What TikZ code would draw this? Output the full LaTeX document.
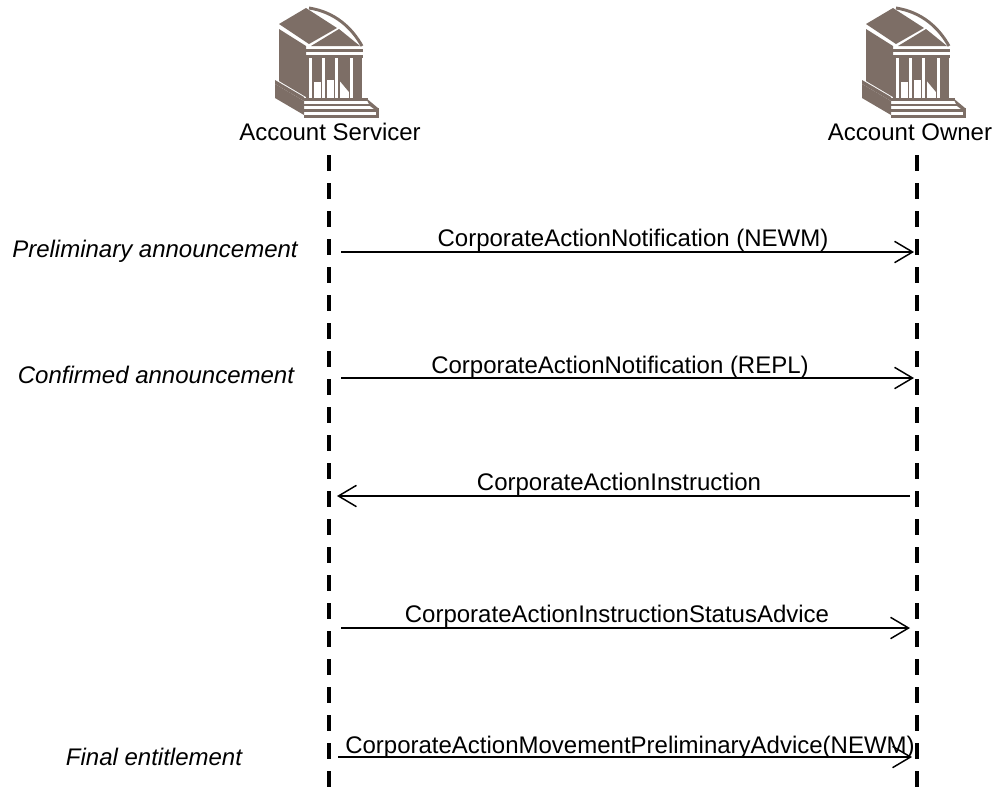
\documentclass[tikz,border=0pt]{standalone}
\usepackage{fontspec}
\setmainfont{Liberation Sans}
\usetikzlibrary{arrows.meta}
\definecolor{bankc}{HTML}{7D6E66}
\begin{document}
\begin{tikzpicture}[x=0.75pt,y=-0.75pt,
  lifeline/.style={line width=2.4pt,dash pattern=on 12pt off 9pt},
  msg/.style={line width=1.1pt,-{Straight Barb[length=13.5pt,width=16pt,line width=1.1pt]}},
  lbl/.style={font=\fontsize{18}{22}\selectfont,inner sep=0pt,anchor=base},
  side/.style={lbl,font=\fontsize{18}{22}\selectfont\itshape},
  bank/.pic={
    % left wall
    \fill[bankc] (279,29) -- (306,46) -- (306,97) -- (279,81) -- cycle;
    % roof top face
    \fill[bankc] (279,24) -- (306,8) -- (337,28) -- (309,44) -- cycle;
    % roof curved rim
    \draw[bankc,line width=2.2pt] (309,8) .. controls (335,12) and (352,28) .. (362,46);
    \fill[bankc] (339,29) -- (360,46) -- (311,46) -- cycle;
    % entablature
    \fill[bankc] (306,49) rectangle (363,52);
    \fill[bankc] (306,55) rectangle (363,58);
    % column shadows
    \fill[bankc] (306,58) rectangle (309,98);
    \fill[bankc] (313,58) rectangle (321,82);
    \fill[bankc] (326,58) rectangle (334,80);
    \fill[bankc] (339,58) -- (349,58) -- (349,92) -- (339,80) -- cycle;
    \fill[bankc] (354,58) rectangle (362,100);
    \fill[bankc] (312,58) rectangle (313.5,98);
    \fill[bankc] (320.5,58) rectangle (322,98);
    \fill[bankc] (325,58) rectangle (326.5,98);
    \fill[bankc] (333.5,58) rectangle (335,98);
    \fill[bankc] (338,58) rectangle (339.5,98);
    \fill[bankc] (348.5,58) rectangle (350,98);
    \fill[bankc] (353,58) rectangle (354.5,98);
    % base
    \fill[bankc] (275,80) -- (304,97) -- (304,101) -- (275,84) -- cycle;
    \fill[bankc] (304,98) rectangle (368,101);
    \fill[bankc] (275,84) -- (304,101) -- (304,115) -- (275,98) -- cycle;
    \fill[bankc] (304,104) rectangle (372,106);
    \fill[bankc] (366,98) -- (378,108) -- (378,112) -- (370,106) -- cycle;
    \fill[bankc] (304,109) rectangle (378,112);
    \fill[bankc] (304,115) rectangle (378,118);
    \fill[bankc] (376,108) rectangle (378.5,118);
  }
]
\useasboundingbox (0,0) rectangle (997,790);

% icons
\pic (iconS) at (0,0) {bank};
\pic (iconO) at (587,0) {bank};

% actor labels
\node[lbl] (servicer) at (330,140) {Account Servicer};
\node[lbl] (owner) at (910,140) {Account Owner};

% lifelines
\coordinate (sTop) at (329,155);
\coordinate (sBot) at (329,792);
\coordinate (oTop) at (917,155);
\coordinate (oBot) at (917,792);
\draw[lifeline] (sTop) -- (sBot);
\draw[lifeline] (oTop) -- (oBot);

% message end points
\coordinate (m1s) at (341,252); \coordinate (m1e) at (914,252);
\coordinate (m2s) at (341,378); \coordinate (m2e) at (914,378);
\coordinate (m3s) at (910,496); \coordinate (m3e) at (337,496);
\coordinate (m4s) at (341,628); \coordinate (m4e) at (910,628);
\coordinate (m5s) at (338,757); \coordinate (m5e) at (912,757);

\draw[msg] (m1s) -- (m1e);
\draw[msg] (m2s) -- (m2e);
\draw[msg] (m3s) -- (m3e);
\draw[msg] (m4s) -- (m4e);
\draw[msg] (m5s) -- (m5e);

% message labels
\node[lbl] (l1) at (633,246) {CorporateActionNotification (NEWM)};
\node[lbl] (l2) at (620,373) {CorporateActionNotification (REPL)};
\node[lbl] (l3) at (619,490) {CorporateActionInstruction};
\node[lbl] (l4) at (617,622) {CorporateActionInstructionStatusAdvice};
\node[lbl] (l5) at (630,753) {CorporateActionMovementPreliminaryAdvice(NEWM)};

% phase labels
\node[side] (p1) at (155,257) {Preliminary announcement};
\node[side] (p2) at (156,383) {Confirmed announcement};
\node[side] (p3) at (154,765) {Final entitlement};
\end{tikzpicture}
\end{document}
